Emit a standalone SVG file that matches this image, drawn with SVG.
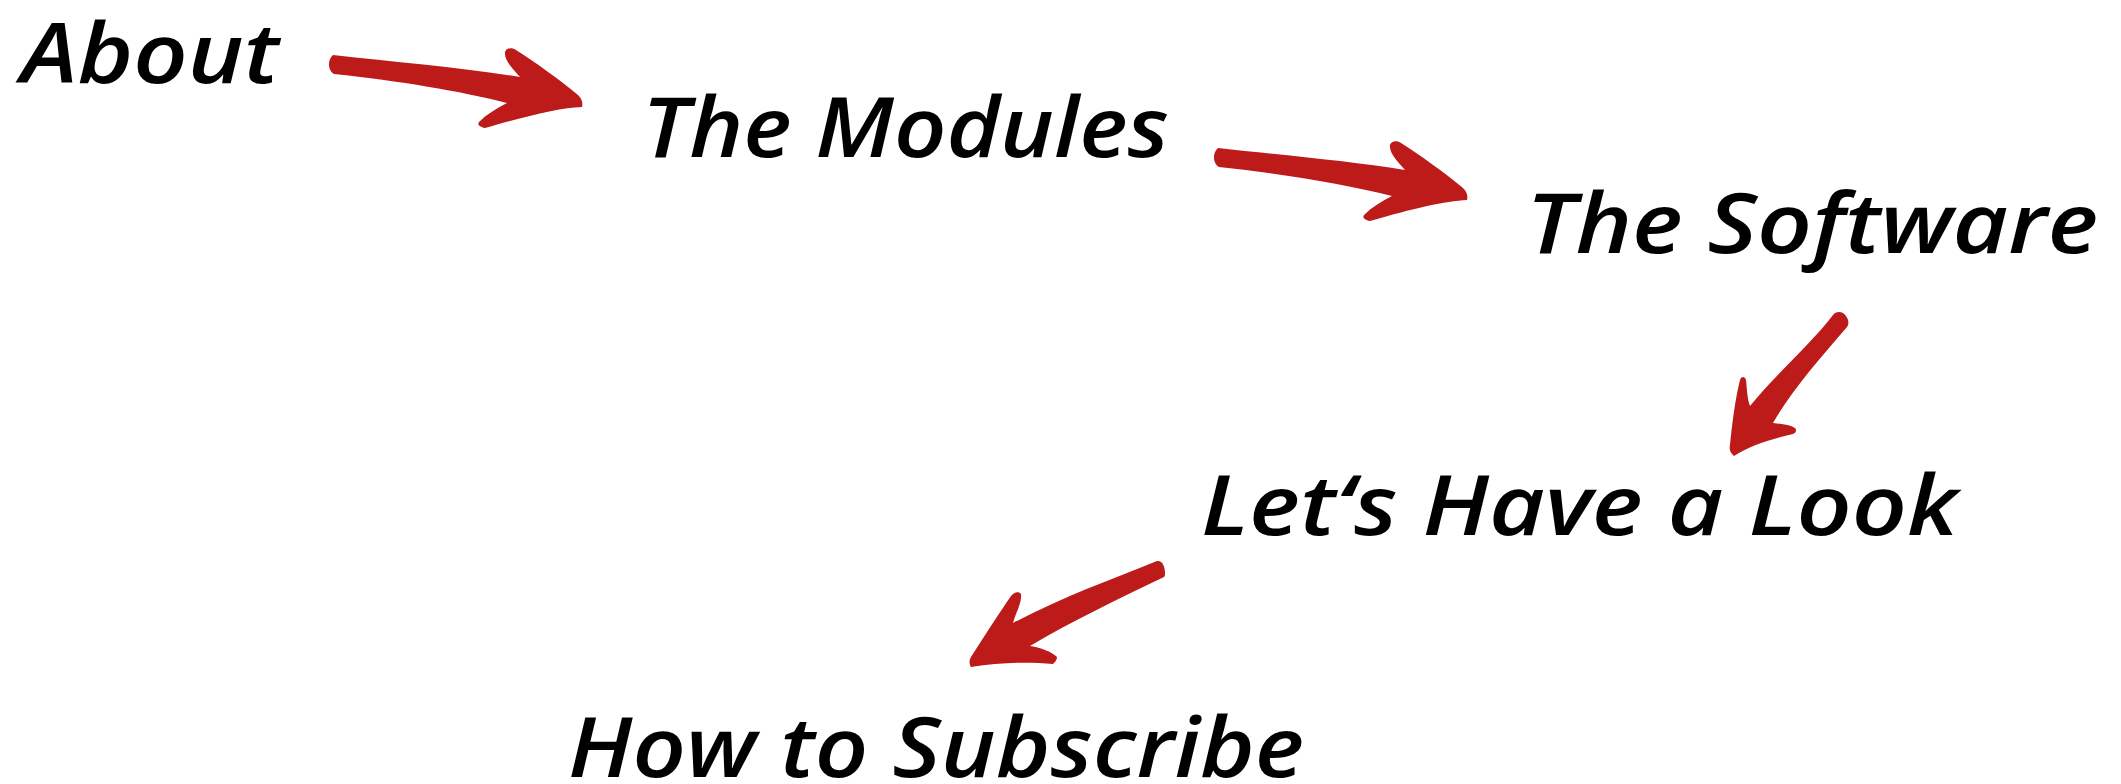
<svg xmlns="http://www.w3.org/2000/svg" xmlns:xlink="http://www.w3.org/1999/xlink" width="2121" height="784" viewBox="0 0 2121 784">
  <style>
    .lbl { font-family: "Open Sans", "DejaVu Sans", sans-serif; font-style: italic; font-weight: 600; font-size: 84px; fill: #000000; }
    .arrow { fill: #BD1A1A; stroke: none; }
  </style>
  <defs>
    <path id="arrowR" class="arrow" d="M 333,55 C 395,62 465,68 520,77 C 512,68 504,60 505,52 C 506,48 512,47 516,50 C 535,62 560,80 578,95 C 582,99 583,103 582,107 C 560,108 530,115 485,128 C 480,127 477,125 479,122 C 487,114 497,108 507,103 C 460,91 400,81 334,74 C 328,71 327,60 333,55 Z"/>
  </defs>
  <rect x="0" y="0" width="2121" height="784" fill="#ffffff"/>

  <g id="connectors">
    <use id="arrow-about-modules" xlink:href="#arrowR" href="#arrowR"/>
    <use id="arrow-modules-software" xlink:href="#arrowR" href="#arrowR" transform="translate(885,93)"/>
    <path id="arrow-software-look" class="arrow" d="M 1833,315 C 1836,311 1843,311 1846,316 C 1849,320 1849,324 1847,327 C 1820,358 1790,393 1773,423 C 1782,424 1790,425 1795,428 C 1797,430 1796,433 1793,434 C 1775,438 1750,445 1734,456 C 1730,453 1729,449 1730,445 C 1732,425 1735,400 1740,380 C 1741,376 1745,376 1746,380 C 1747,388 1747,398 1750,406 C 1775,375 1810,345 1833,315 Z"/>
    <path id="arrow-look-subscribe" class="arrow" d="M 1157,561 C 1162,560 1165,566 1165,573 C 1165,575 1165,576 1164,577 C 1120,598 1070,622 1030,646 C 1042,648 1052,652 1057,657 C 1057,660 1055,662 1053,664 C 1030,662 1000,662 971,667 C 969,664 969,660 971,657 C 985,635 1000,612 1011,596 C 1014,592 1019,591 1021,594 C 1022,603 1016,612 1013,623 C 1060,598 1110,580 1157,561 Z"/>
  </g>

  <g id="node-about">
    <text class="lbl" x="21" y="83" textLength="258" lengthAdjust="spacingAndGlyphs">About</text>
  </g>
  <g id="node-modules">
    <text class="lbl" x="642" y="157" textLength="527" lengthAdjust="spacingAndGlyphs">The Modules</text>
  </g>
  <g id="node-software">
    <text class="lbl" x="1526" y="253" textLength="572" lengthAdjust="spacingAndGlyphs">The Software</text>
  </g>
  <g id="node-look">
    <text class="lbl" x="1201" y="535" textLength="757" lengthAdjust="spacingAndGlyphs">Let‘s Have a Look</text>
  </g>
  <g id="node-subscribe">
    <text class="lbl" x="568" y="777" textLength="736" lengthAdjust="spacingAndGlyphs">How to Subscribe</text>
  </g>
</svg>
